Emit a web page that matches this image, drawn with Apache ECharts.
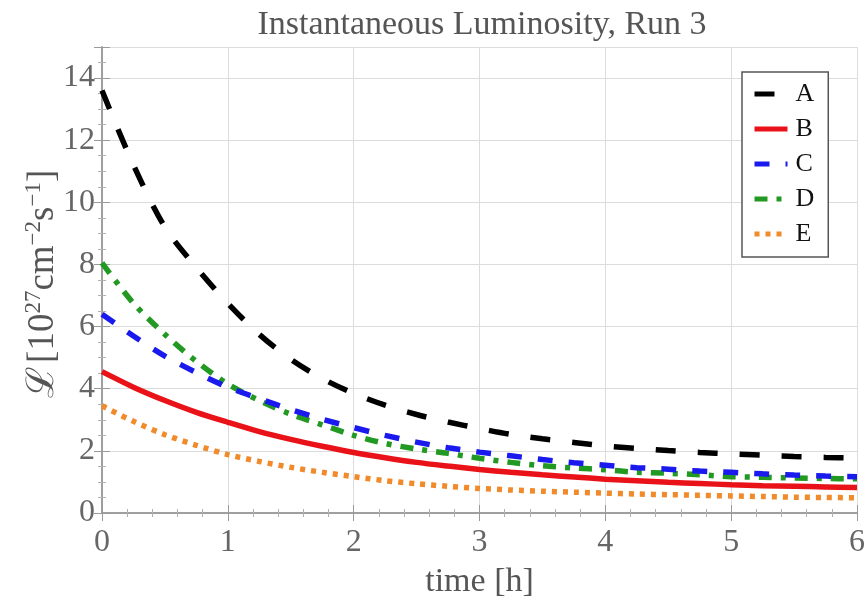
<!DOCTYPE html>
<html>
<head>
<meta charset="utf-8">
<title>Instantaneous Luminosity, Run 3</title>
<script src="https://cdn.jsdelivr.net/npm/echarts@6/dist/echarts.min.js"></script>
<style>
  html, body { margin: 0; padding: 0; background: #fff; }
  #chart { width: 868px; height: 604px; }
</style>
</head>
<body>
<div id="chart"></div>
<script>
// Time samples in hours
var hours = [0, 0.25, 0.5, 0.75, 1, 1.25, 1.5, 1.75, 2, 2.25, 2.5, 2.75, 3,
             3.25, 3.5, 3.75, 4, 4.25, 4.5, 4.75, 5, 5.25, 5.5, 5.75, 6];

// Instantaneous luminosity per configuration, in 10^27 cm^-2 s^-1
var lumiA = [13.6, 11.2, 9.2, 7.9, 6.75, 5.75, 4.95, 4.33, 3.85, 3.47, 3.17, 2.93, 2.72,
             2.53, 2.39, 2.27, 2.16, 2.08, 2.01, 1.95, 1.9, 1.86, 1.82, 1.79, 1.77];
var lumiB = [4.55, 4.05, 3.62, 3.24, 2.92, 2.62, 2.37, 2.15, 1.95, 1.78, 1.63, 1.51, 1.40,
             1.31, 1.23, 1.16, 1.09, 1.04, 0.99, 0.95, 0.91, 0.88, 0.86, 0.84, 0.82];
var lumiC = [6.4, 5.7, 5.05, 4.52, 4.05, 3.68, 3.33, 3.02, 2.75, 2.5, 2.28, 2.1, 1.96,
             1.84, 1.72, 1.62, 1.54, 1.46, 1.41, 1.35, 1.31, 1.26, 1.22, 1.19, 1.17];
var lumiD = [8.05, 6.75, 5.75, 4.88, 4.15, 3.62, 3.18, 2.84, 2.5, 2.24, 2.06, 1.92, 1.76,
             1.63, 1.52, 1.45, 1.39, 1.31, 1.28, 1.23, 1.17, 1.15, 1.13, 1.11, 1.1];
var lumiE = [3.45, 2.95, 2.52, 2.18, 1.88, 1.66, 1.47, 1.31, 1.17, 1.04, 0.94, 0.86, 0.79,
             0.74, 0.70, 0.67, 0.64, 0.61, 0.59, 0.57, 0.55, 0.53, 0.51, 0.50, 0.49];

var seriesNames = ['A', 'B', 'C', 'D', 'E'];
var seriesValues = [lumiA, lumiB, lumiC, lumiD, lumiE];

var serif = '"Liberation Serif", "Times New Roman", serif';
var seriesStyles = [
  { color: '#000000', type: [20, 22] },
  { color: '#ea1219', type: 'solid' },
  { color: '#1a1aee', type: [15, 16] },
  { color: '#229922', type: [13, 9, 5, 9] },
  { color: '#f08a2a', type: [5, 6] }
];

function pairs(values) {
  return hours.map(function (t, i) { return [t, values[i]]; });
}

var series = seriesNames.map(function (name, i) {
  var st = seriesStyles[i];
  return {
    name: name,
    type: 'line',
    xAxisIndex: 0,
    yAxisIndex: 0,
    smooth: 0.3,
    symbol: 'none',
    data: pairs(seriesValues[i]),
    itemStyle: { color: st.color },
    lineStyle: { color: st.color, width: 5.5, type: st.type, cap: 'butt' },
    z: 10 - i
  };
});

var frameLine = { show: true, lineStyle: { color: '#9a9a9a', width: 1.5 } };
var tickMajor = { show: true, inside: true, length: 8, lineStyle: { color: '#9a9a9a', width: 1 } };
var tickMinor = { show: true, length: 4, lineStyle: { color: '#b0b0b0', width: 1 } };

var chart = echarts.init(document.getElementById('chart'), null, { renderer: 'canvas' });
chart.setOption({
  animation: false,
  backgroundColor: '#ffffff',
  title: {
    text: 'Instantaneous Luminosity, Run 3',
    left: 477,
    textAlign: 'center',
    top: 3,
    textStyle: { fontFamily: serif, fontSize: 34, fontWeight: 'normal', color: '#555555' }
  },
  grid: { left: 102, right: 8, top: 47, bottom: 91 },
  legend: {
    data: seriesNames,
    orient: 'vertical',
    left: 742,
    top: 72,
    padding: [9, 14, 10, 10],
    itemWidth: 33,
    itemHeight: 14,
    itemGap: 9,
    backgroundColor: '#ffffff',
    borderColor: '#555555',
    borderWidth: 1.5,
    borderRadius: 0,
    itemStyle: { color: 'rgba(0,0,0,0)', borderColor: 'rgba(0,0,0,0)', borderWidth: 0 },
    lineStyle: { width: 5 },
    textStyle: { fontFamily: serif, fontSize: 26, lineHeight: 26, color: '#111111', padding: [0, 0, 0, 3] }
  },
  xAxis: [{
    type: 'value',
    min: 0, max: 6, interval: 1,
    name: 'time [h]',
    nameLocation: 'middle',
    nameGap: 52,
    nameMoveOverlap: false,
    nameTextStyle: { fontFamily: serif, fontSize: 34, color: '#555555' },
    axisLine: frameLine,
    axisTick: tickMajor,
    minorTick: Object.assign({ splitNumber: 5 }, tickMinor),
    axisLabel: { fontFamily: serif, fontSize: 32, color: '#666666', margin: 14 },
    splitLine: { show: true, lineStyle: { color: '#dcdcdc', width: 1 } }
  }, {
    type: 'value',
    position: 'top',
    min: 0, max: 6, interval: 1,
    axisLine: frameLine,
    axisTick: tickMajor,
    minorTick: Object.assign({ splitNumber: 5 }, tickMinor),
    axisLabel: { show: false },
    splitLine: { show: false }
  }],
  yAxis: [{
    type: 'value',
    min: 0, max: 15, interval: 2,
    name: '{l|ℒ} {t|[10}{s|27}{t|cm}{s|−2}{t|s}{s|−1}{t|]}',
    nameLocation: 'middle',
    nameRotate: 90,
    nameGap: 40,
    nameMoveOverlap: false,
    nameTextStyle: {
      padding: [0, 8, 0, 0],
      rich: {
        l: { fontFamily: '"DejaVu Serif", serif', fontSize: 38, color: '#555555', lineHeight: 40, verticalAlign: 'bottom' },
        t: { fontFamily: serif, fontSize: 37, color: '#555555', lineHeight: 40, verticalAlign: 'bottom' },
        s: { fontFamily: serif, fontSize: 23, color: '#555555', lineHeight: 40, verticalAlign: 'top' }
      }
    },
    axisLine: frameLine,
    axisTick: tickMajor,
    minorTick: Object.assign({ splitNumber: 4 }, tickMinor),
    axisLabel: { fontFamily: serif, fontSize: 32, color: '#666666', margin: 7, showMaxLabel: false },
    splitLine: { show: true, lineStyle: { color: '#dcdcdc', width: 1 } }
  }, {
    type: 'value',
    position: 'right',
    min: 0, max: 15, interval: 2,
    axisLine: frameLine,
    axisTick: tickMajor,
    minorTick: Object.assign({ splitNumber: 4 }, tickMinor),
    axisLabel: { show: false },
    splitLine: { show: false }
  }],
  series: series
});
</script>
</body>
</html>
